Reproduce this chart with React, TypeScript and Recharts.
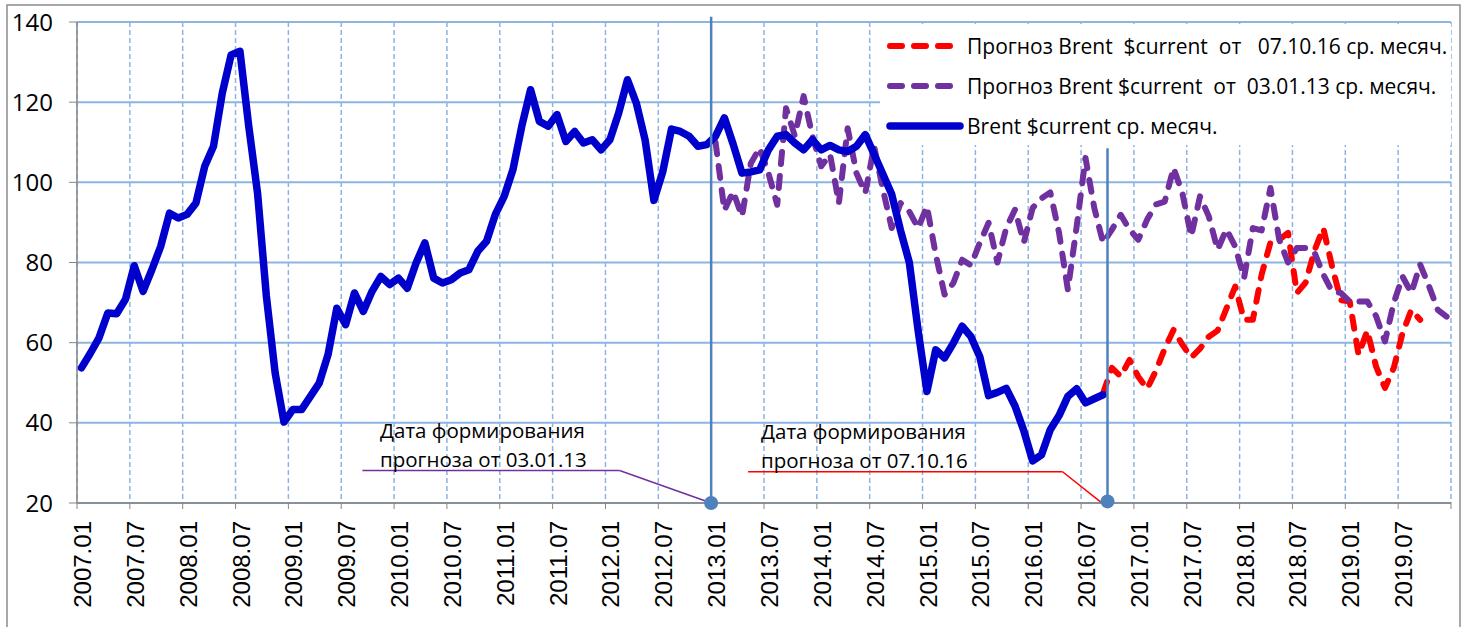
import {
  LineChart,
  Line,
  XAxis,
  YAxis,
  CartesianGrid,
  Legend,
  ReferenceLine,
  ReferenceDot,
} from "recharts";

// ── Monthly averages, $/bbl ────────────────────────────────────────
// Brent $current, actual: 2007.01 … 2016.09
const BRENT_ACTUAL = [
  53.7, 57.3, 61.2, 67.4, 67.2, 70.8, 79.2, 72.8, 78.2, 84.0, 92.3, 91.1,
  92.0, 94.8, 104.0, 109.0, 122.3, 131.8, 132.7, 114.0, 97.3, 71.6, 52.4, 40.2,
  43.3, 43.3, 46.6, 49.9, 57.0, 68.6, 64.5, 72.4, 67.8, 72.8, 76.5, 74.5,
  76.1, 73.6, 79.9, 84.9, 76.1, 74.9, 75.7, 77.4, 78.2, 82.8, 85.3, 92.0,
  96.5, 103.2, 114.0, 123.1, 115.2, 114.0, 116.9, 110.2, 112.7, 109.8, 110.6, 108.1,
  110.6, 117.3, 125.6, 119.8, 110.6, 95.5, 102.6, 113.3, 112.7, 111.5, 109.0, 109.4,
  111.5, 116.1, 109.5, 102.3, 102.6, 103.1, 108.1, 111.5, 111.9, 109.8, 108.1, 110.6,
  108.1, 109.2, 108.1, 107.7, 109.0, 111.9, 107.0, 102.0, 97.0, 88.0, 80.0, 63.0,
  47.8, 58.2, 56.2, 59.9, 64.1, 61.5, 56.5, 46.8, 47.6, 48.6, 44.2, 38.0,
  30.5, 32.0, 38.3, 41.8, 46.6, 48.5, 45.0, 46.0, 47.0,
];
const ACTUAL_START = 0;

// forecast of 03.01.13: 2013.01 … 2019.12
const FORECAST_2013 = [
  110.0, 93.0, 97.7, 91.5, 104.7, 108.6, 102.3, 94.4, 118.5, 111.6, 121.5, 111.5,
  104.0, 107.0, 94.8, 113.5, 102.3, 97.3, 109.0, 98.2, 88.6, 94.8, 92.7, 88.6,
  94.0, 82.0, 72.0, 74.9, 80.7, 79.3, 84.9, 89.9, 80.0, 88.6, 93.2, 85.0,
  93.6, 96.0, 97.5, 87.4, 73.2, 89.0, 106.1, 93.6, 84.9, 88.2, 91.9, 88.2,
  85.7, 90.7, 94.5, 95.2, 103.6, 97.3, 86.5, 96.5, 91.5, 83.2, 88.3, 84.0,
  76.1, 88.6, 88.0, 98.6, 85.7, 80.0, 83.6, 83.6, 82.5, 77.0, 72.8, 72.4,
  70.3, 70.3, 70.3, 66.6, 60.3, 69.9, 76.5, 72.4, 79.5, 74.1, 68.2, 66.5,
];
const FORECAST_2013_START = 72;

// forecast of 07.10.16: 2016.09 … 2019.09
const FORECAST_2016 = [
  47.4, 53.7, 51.6, 55.7, 51.5, 48.5, 53.0, 58.5, 63.2, 59.5, 56.3, 58.5,
  61.5, 63.0, 68.5, 74.0, 65.7, 65.7, 77.0, 85.0, 85.7, 87.4, 72.4, 75.0,
  83.0, 88.6, 79.0, 70.6, 70.3, 57.0, 63.0, 54.0, 48.7, 53.7, 62.4, 68.2, 65.7,
];
const FORECAST_2016_START = 116;

const MONTHS = 156; // 2007.01 … 2019.12
const TICK_LABELS = [
  "2007.01", "2007.07", "2008.01", "2008.07", "2009.01", "2009.07",
  "2010.01", "2010.07", "2011.01", "2011.07", "2012.01", "2012.07",
  "2013.01", "2013.07", "2014.01", "2014.07", "2015.01", "2015.07",
  "2016.01", "2016.07", "2017.01", "2017.07", "2018.01", "2018.07",
  "2019.01", "2019.07",
];
const Y_TICKS = [20, 40, 60, 80, 100, 120, 140];

const LEGEND_ITEMS = [
  { label: "Прогноз Brent  $current  от   07.10.16 ср. месяч.", color: "#FF0000", dashed: true },
  { label: "Прогноз Brent $current  от  03.01.13 ср. месяч.", color: "#7030A0", dashed: true },
  { label: "Brent $current ср. месяч.", color: "#0000CC", dashed: false },
];

// ── Layout ──────────────────────────────────────────────────────────
const W = 1472;
const H = 627;
const PLOT_TOP = 22;
const PLOT_BOTTOM = 503;
const LABEL_TOP = 521;
const GRID = "#8DB4E2";
const AXIS = "#868686";
const MARKER = "#4F81BD";
const DASH = "12 12";
const SANS = "'Open Sans', 'Noto Sans', sans-serif";

const pick = (arr: number[], start: number, i: number) => {
  const v = arr[i - start];
  return v === undefined ? null : v;
};

const rows = Array.from({ length: MONTHS }, (_, i) => ({
  x: i + 0.5,
  actual: pick(BRENT_ACTUAL, ACTUAL_START, i),
  f13: pick(FORECAST_2013, FORECAST_2013_START, i),
  f16: pick(FORECAST_2016, FORECAST_2016_START, i),
}));

const xTicks = Array.from({ length: MONTHS / 6 + 1 }, (_, k) => k * 6);

function MonthTick({ x, payload }: any) {
  const label = TICK_LABELS[Math.round(payload.value / 6)];
  if (!label) return <g />;
  const bx = x + 14;
  return (
    <text
      x={bx}
      y={LABEL_TOP}
      transform={`rotate(-90 ${bx} ${LABEL_TOP})`}
      textAnchor="end"
      fontSize={24}
      fontFamily="'Liberation Sans', Arial, sans-serif"
      fill="#000"
    >
      {label}
    </text>
  );
}

function LegendBox() {
  return (
    <svg width={571} height={121} style={{ display: "block" }}>
      {LEGEND_ITEMS.map((it, i) => {
        const y = 22 + i * 40;
        return (
          <g key={it.label}>
            <line
              x1={10}
              x2={it.dashed ? 73 : 80}
              y1={y}
              y2={y}
              stroke={it.color}
              strokeWidth={it.dashed ? 6 : 7.5}
              strokeDasharray={it.dashed ? DASH : undefined}
              strokeLinecap="round"
            />
            <text
              x={87}
              y={y + 7.5}
              fontSize={21}
              fontFamily={SANS}
              fill="#000"
              style={{ whiteSpace: "pre" }}
            >
              {it.label}
            </text>
          </g>
        );
      })}
    </svg>
  );
}

export default function App() {
  return (
    <div style={{ position: "absolute", left: 0, top: 0, width: W, height: H, background: "#fff" }}>
      <LineChart
        width={W}
        height={H}
        data={rows}
        margin={{ top: PLOT_TOP, right: 21, bottom: 0, left: 0 }}
      >
        <CartesianGrid horizontal={false} stroke={GRID} strokeWidth={1.5} strokeDasharray="5 3" />
        <CartesianGrid vertical={false} stroke={GRID} strokeWidth={2} />
        <XAxis
          dataKey="x"
          type="number"
          domain={[0, MONTHS]}
          ticks={xTicks}
          interval={0}
          height={H - PLOT_BOTTOM}
          axisLine={{ stroke: AXIS, strokeWidth: 1.5 }}
          tickLine={{ stroke: AXIS }}
          tickSize={6}
          tick={<MonthTick />}
        />
        <YAxis
          type="number"
          domain={[20, 140]}
          ticks={Y_TICKS}
          interval={0}
          width={77}
          axisLine={{ stroke: AXIS, strokeWidth: 1.5 }}
          tickLine={{ stroke: AXIS }}
          tickSize={8}
          tickMargin={16}
          tick={{ fill: "#000", fontSize: 24, fontFamily: SANS }}
        />
        <Legend
          layout="vertical"
          align="center"
          verticalAlign="middle"
          wrapperStyle={{
            position: "absolute",
            left: 880,
            top: 24,
            width: 571,
            height: 121,
            background: "#fff",
          }}
          content={() => <LegendBox />}
        />
        <Line
          dataKey="f16"
          stroke="#FF0000"
          strokeWidth={6}
          strokeDasharray={DASH}
          strokeLinecap="round"
          strokeLinejoin="round"
          dot={false}
          connectNulls={false}
          isAnimationActive={false}
        />
        <Line
          dataKey="f13"
          stroke="#7030A0"
          strokeWidth={6}
          strokeDasharray={DASH}
          strokeLinecap="round"
          strokeLinejoin="round"
          dot={false}
          connectNulls={false}
          isAnimationActive={false}
        />
        <Line
          dataKey="actual"
          stroke="#0000CC"
          strokeWidth={7.5}
          strokeLinecap="round"
          strokeLinejoin="round"
          dot={false}
          connectNulls={false}
          isAnimationActive={false}
        />
        {/* forecast dates: vertical markers */}
        <ReferenceLine
          segment={[{ x: 72, y: 20 }, { x: 72, y: 141.3 }]}
          stroke={MARKER}
          strokeWidth={2.5}
          ifOverflow="visible"
        />
        <ReferenceLine
          segment={[{ x: 117, y: 20 }, { x: 117, y: 108.5 }]}
          stroke={MARKER}
          strokeWidth={2.5}
          ifOverflow="visible"
        />
        {/* callout leaders */}
        <ReferenceLine
          segment={[{ x: 32.4, y: 28.1 }, { x: 61.6, y: 28.1 }]}
          stroke="#7030A0"
          strokeWidth={1.5}
          ifOverflow="visible"
        />
        <ReferenceLine
          segment={[{ x: 61.6, y: 28.1 }, { x: 72, y: 20 }]}
          stroke="#7030A0"
          strokeWidth={1.5}
          ifOverflow="visible"
        />
        <ReferenceLine
          segment={[{ x: 76.2, y: 27.8 }, { x: 111.9, y: 27.8 }]}
          stroke="#FF0000"
          strokeWidth={1.5}
          ifOverflow="visible"
        />
        <ReferenceLine
          segment={[{ x: 111.9, y: 27.8 }, { x: 116.6, y: 19.6 }]}
          stroke="#FF0000"
          strokeWidth={1.5}
          ifOverflow="visible"
        />
        <ReferenceDot x={72} y={20} r={7} fill={MARKER} stroke="none" ifOverflow="visible" />
        <ReferenceDot x={117} y={20.4} r={7} fill={MARKER} stroke="none" ifOverflow="visible" />
      </LineChart>
      <svg
        width={W}
        height={H}
        style={{ position: "absolute", left: 0, top: 0, pointerEvents: "none" }}
      >
        <rect x={7} y={5} width={1453} height={700} fill="none" stroke="#8C8C8C" strokeWidth={1.5} />
        <g fontFamily={SANS} fontSize={20.5} fill="#000">
          <text x={380} y={438}>Дата формирования</text>
          <text x={380} y={467}>прогноза от 03.01.13</text>
          <text x={761} y={439}>Дата формирования</text>
          <text x={761} y={468}>прогноза от 07.10.16</text>
        </g>
      </svg>
    </div>
  );
}
